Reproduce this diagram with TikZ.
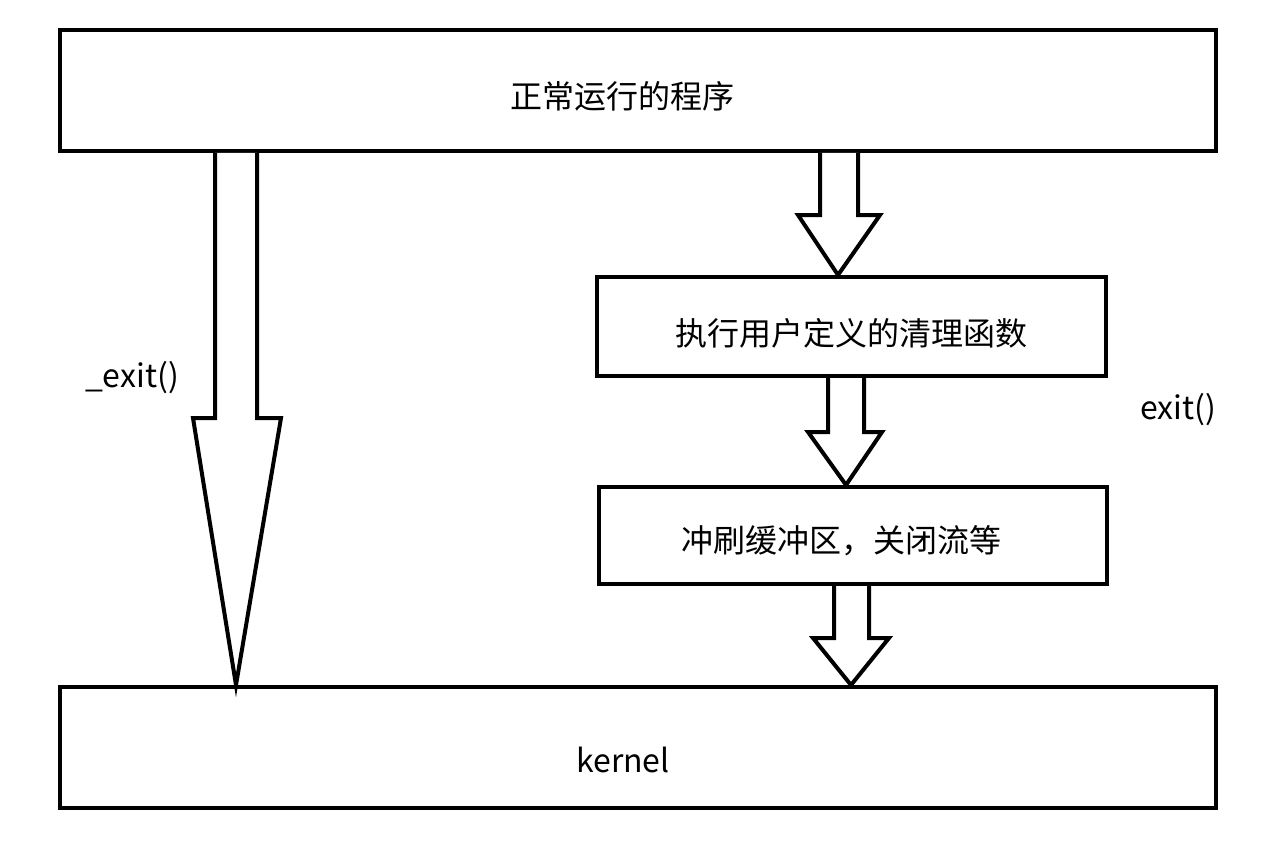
\documentclass[tikz,border=0pt]{standalone}
\usepackage{fontspec}
\setmainfont{Noto Sans CJK SC}
\begin{document}
\begin{tikzpicture}[x=1pt,y=-1pt,
  box/.style={draw,line width=4pt,rectangle,inner sep=0pt},
  txt/.style={inner sep=0pt,font=\fontsize{32}{38}\selectfont},
  fat/.style={draw,line width=4pt,line join=miter,fill=white}]
\useasboundingbox (0,0) rectangle (1272,848);
\node[box,minimum width=1156pt,minimum height=121pt] (top) at (638,90.5) {};
\node[box,minimum width=1156pt,minimum height=121pt] (kernel) at (638,747.5) {};
\node[box,minimum width=509pt,minimum height=99pt] (clean) at (851.5,326.5) {};
\node[box,minimum width=508pt,minimum height=97pt] (flush) at (853,535.5) {};
\node[txt] (ttop) at (622,96) {正常运行的程序};
\node[txt] (tkernel) at (623,760) {kernel};
\node[txt] (tclean) at (851,333) {执行用户定义的清理函数};
\node[txt] (tflush) at (841,541) {冲刷缓冲区，关闭流等};
\node[txt,anchor=center] (lexit) at (132,378) {\_exit()};
\node[txt,anchor=center] (rexit) at (1178,410) {exit()};
% left long arrow
\draw[fat] (215,0 |- top.south) -- (215,418) -- (193,418) -- (236,0 |- kernel.north)
  -- (281,418) -- (257,418) -- (257,0 |- top.south);
% right arrows
\draw[fat] (820,0 |- top.south) -- (820,215) -- (798,215) -- (838,0 |- clean.north)
  -- (880,215) -- (858,215) -- (858,0 |- top.south);
\draw[fat] (828,0 |- clean.south) -- (828,432) -- (808,432) -- (846,0 |- flush.north)
  -- (882,432) -- (864,432) -- (864,0 |- clean.south);
\draw[fat] (834,0 |- flush.south) -- (834,638) -- (813,638) -- (851,0 |- kernel.north)
  -- (889,638) -- (869,638) -- (869,0 |- flush.south);
\end{tikzpicture}
\end{document}
